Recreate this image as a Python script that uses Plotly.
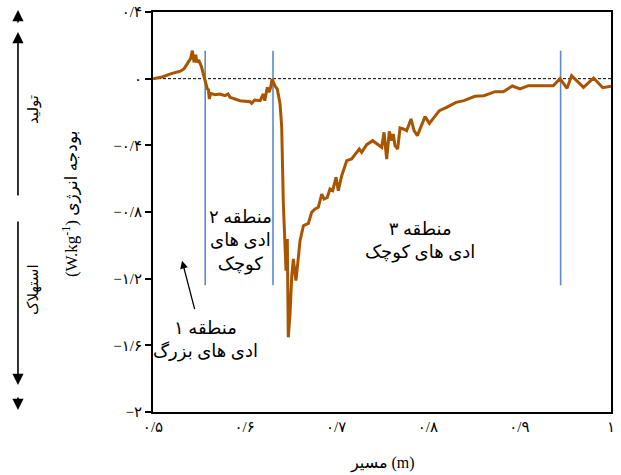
import plotly.graph_objects as go

# ---- data ----
path_x = [0.500, 0.510, 0.520, 0.530, 0.534, 0.5375, 0.541, 0.543, 0.5448, 0.5466,
          0.548, 0.5499, 0.551, 0.553, 0.555, 0.5568, 0.5593, 0.5605, 0.5615, 0.563,
          0.5677, 0.573, 0.5786, 0.582, 0.584, 0.5895, 0.595, 0.606, 0.6077, 0.611,
          0.617, 0.6204, 0.622, 0.6248, 0.6266, 0.6285, 0.6300, 0.633, 0.6357, 0.6387,
          0.6405, 0.6423, 0.644, 0.6452, 0.6466, 0.6477, 0.6496, 0.6514, 0.6532, 0.656,
          0.6587, 0.6605, 0.6642, 0.6696, 0.6732, 0.6769, 0.6805, 0.6842, 0.6867, 0.6903,
          0.6932, 0.6962, 0.6998, 0.7023, 0.706, 0.7115, 0.7168, 0.7223, 0.7252, 0.7278,
          0.7333, 0.7398, 0.7442, 0.7497, 0.7522, 0.7551, 0.758, 0.7606, 0.7623, 0.7642,
          0.7671, 0.7697, 0.7733, 0.7769, 0.7817, 0.785, 0.7886, 0.7933, 0.797, 0.8017,
          0.8068, 0.8126, 0.8205, 0.8308, 0.8394, 0.8515, 0.8613, 0.8734, 0.8824, 0.8922,
          0.9007, 0.9098, 0.9225, 0.937, 0.9443, 0.952, 0.957, 0.970, 0.981, 0.991, 1.000]
energy_budget = [0.000, 0.010, 0.030, 0.045, 0.060, 0.088, 0.120, 0.168, 0.098, 0.144,
                 0.098, 0.112, 0.098, 0.070, 0.028, -0.008, -0.062, -0.065, -0.122, -0.088,
                 -0.096, -0.092, -0.102, -0.092, -0.112, -0.122, -0.132, -0.138, -0.148, -0.128,
                 -0.132, -0.092, -0.132, -0.052, -0.082, -0.052, -0.002, -0.042, -0.062, -0.152,
                 -0.290, -0.750, -0.972, -1.152, -0.962, -1.552, -1.410, -1.192, -1.082, -1.212,
                 -1.072, -0.972, -0.882, -0.868, -0.802, -0.782, -0.772, -0.692, -0.722, -0.712,
                 -0.662, -0.672, -0.592, -0.672, -0.582, -0.492, -0.482, -0.442, -0.422, -0.442,
                 -0.396, -0.372, -0.392, -0.412, -0.322, -0.482, -0.316, -0.372, -0.332, -0.402,
                 -0.422, -0.296, -0.302, -0.312, -0.242, -0.312, -0.342, -0.272, -0.228, -0.268,
                 -0.232, -0.192, -0.172, -0.142, -0.132, -0.106, -0.102, -0.078, -0.078, -0.044,
                 -0.062, -0.042, -0.042, -0.042, 0.000, -0.058, 0.018, -0.052, 0.004, -0.054, -0.045]

boundary_x = [0.557, 0.631, 0.945]
boundary_y = [0.168, -1.24]

x_ticks = [0.5, 0.6, 0.7, 0.8, 0.9, 1.0]
x_tick_labels = ["۰/۵", "۰/۶", "۰/۷", "۰/۸", "۰/۹", "۱"]
y_ticks = [0.4, 0, -0.4, -0.8, -1.2, -1.6, -2]
y_tick_labels = ["۰/۴", "۰", "−۰/۴", "−۰/۸", "−۱/۲", "−۱/۶", "−۲"]

FONT = "Liberation Serif, DejaVu Sans, serif"

fig = go.Figure()

# zero reference line
fig.add_trace(go.Scatter(x=[x_ticks[0], x_ticks[-1]], y=[0, 0], mode="lines",
                         line=dict(color="black", width=1, dash="3px,2px"),
                         hoverinfo="skip", showlegend=False))

# region boundaries
for bx in boundary_x:
    fig.add_trace(go.Scatter(x=[bx, bx], y=boundary_y, mode="lines",
                             line=dict(color="#5b8bcf", width=1.6),
                             hoverinfo="skip", showlegend=False))

# energy budget curve
fig.add_trace(go.Scatter(x=path_x, y=energy_budget, mode="lines",
                         line=dict(color="#a85400", width=3),
                         showlegend=False))

fig.update_layout(
    width=621, height=475,
    margin=dict(l=153, r=10, t=12, b=63),
    paper_bgcolor="white", plot_bgcolor="white",
    font=dict(family=FONT, size=14, color="black"),
    showlegend=False,
)
fig.update_xaxes(range=[0.5, 1.0], tickvals=x_ticks, ticktext=x_tick_labels, automargin=False,
                 showgrid=False, zeroline=False, showline=True, linecolor="black",
                 linewidth=2, mirror=True, ticks="", tickfont=dict(size=15, family=FONT, color="black"))
fig.update_yaxes(range=[-2, 0.4], tickvals=y_ticks, ticktext=y_tick_labels, automargin=False,
                 showgrid=False, zeroline=False, showline=True, linecolor="black",
                 linewidth=2, mirror=True, ticks="outside", ticklen=6, tickwidth=2,
                 tickcolor="black", tickfont=dict(size=15, family=FONT, color="black"))

ann_font = dict(family=FONT, size=18, color="black")
annotations = [
    # x-axis title
    dict(text="مسیر (m)", xref="paper", yref="paper", x=0.502, y=-0.128,
         showarrow=False, font=dict(family=FONT, size=16), xanchor="center", yanchor="middle"),
    # y-axis title
    dict(text="(W.kg<sup>-1</sup>) بودجه انرژی", xref="paper", yref="paper", x=-0.181, y=0.52,
         textangle=-90, showarrow=False, font=dict(family=FONT, size=17),
         xanchor="center", yanchor="middle"),
    dict(text="تولید", xref="paper", yref="paper", x=-0.262, y=0.755, textangle=-90,
         showarrow=False, font=dict(family=FONT, size=15), xanchor="center", yanchor="middle"),
    dict(text="استهلاک", xref="paper", yref="paper", x=-0.262, y=0.305, textangle=-90,
         showarrow=False, font=dict(family=FONT, size=15), xanchor="center", yanchor="middle"),
    # production / dissipation arrows
    dict(text="", xref="paper", yref="paper", x=-0.2948, y=0.95, ax=0, ay=165,
         showarrow=True, arrowhead=2, arrowsize=1.4, arrowwidth=1.6, arrowcolor="black"),
    dict(text="", xref="paper", yref="paper", x=-0.2948, y=1.005, ax=0, ay=14,
         showarrow=True, arrowhead=2, arrowsize=1.4, arrowwidth=1.6, arrowcolor="black"),
    dict(text="", xref="paper", yref="paper", x=-0.2948, y=0.0675, ax=0, ay=-165,
         showarrow=True, arrowhead=2, arrowsize=1.4, arrowwidth=1.6, arrowcolor="black"),
    dict(text="", xref="paper", yref="paper", x=-0.2948, y=0.005, ax=0, ay=-14,
         showarrow=True, arrowhead=2, arrowsize=1.4, arrowwidth=1.6, arrowcolor="black"),
    # region labels
    dict(text="۲ منطقه<br>ادی های<br>کوچک", x=0.595, y=-0.975, xref="x", yref="y",
         showarrow=False, font=ann_font, align="center"),
    dict(text="۳ منطقه<br>ادی های کوچک", x=0.7915, y=-0.975, xref="x", yref="y",
         showarrow=False, font=ann_font, align="center"),
    dict(text="۱ منطقه<br>ادی های بزرگ", x=0.557, y=-1.565, xref="x", yref="y",
         showarrow=False, font=ann_font, align="center"),
    # region 1 pointer
    dict(text="", x=0.5317, y=-1.092, xref="x", yref="y", ax=13, ay=50,
         showarrow=True, arrowhead=2, arrowsize=1.2, arrowwidth=1.3, arrowcolor="black"),
]
fig.update_layout(annotations=annotations)

fig.write_html("out.html")
